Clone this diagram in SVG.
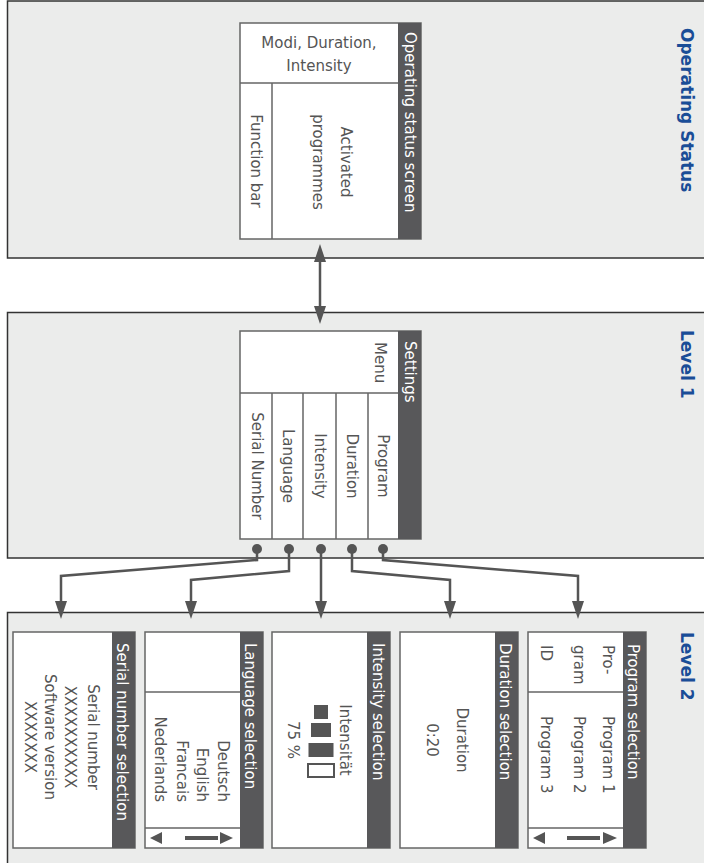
<svg xmlns="http://www.w3.org/2000/svg" width="704" height="863" viewBox="0 0 704 863">
<style>
.band{fill:#ebeceb;stroke:#333;stroke-width:1.5}
.box{fill:#fff;stroke:#666;stroke-width:1.5}
.strip{fill:#58585a}
.ln{stroke:#666;stroke-width:1.5;fill:none}
.t{font-family:"DejaVu Sans",sans-serif;font-size:15px;fill:#555;dominant-baseline:central}
.w{fill:#fff}
.lvl{font-family:"DejaVu Sans",sans-serif;font-weight:bold;font-size:17px;fill:#1a4d97;dominant-baseline:central}
.conn{stroke:#555;stroke-width:2.5;fill:none}
.dk{fill:#555}
</style>
<defs>
<marker id="ah" viewBox="0 0 18 12" refX="11" refY="6" markerWidth="18" markerHeight="12" markerUnits="userSpaceOnUse" orient="auto-start-reverse">
<path d="M0,0 L18,6 L0,12 z" fill="#555"/>
</marker>
</defs>

<g id="bands">
<rect class="band" x="7.5" y="1" width="700" height="257"/>
<rect class="band" x="7.5" y="312.5" width="700" height="245.5"/>
<rect class="band" x="7.5" y="612.5" width="700" height="260"/>
<text class="lvl" transform="translate(687,28) rotate(90)">Operating Status</text>
<text class="lvl" transform="translate(687,330) rotate(90)">Level 1</text>
<text class="lvl" transform="translate(687,632) rotate(90)">Level 2</text>
</g>

<g id="operating-status">
<rect class="box" x="240" y="23" width="181" height="216"/>
<rect class="strip" x="398" y="23" width="23" height="216"/>
<path class="ln" d="M240,83 H398 M272,83 V239"/>
<text class="t w" transform="translate(410,32) rotate(90)">Operating status screen</text>
<text class="t" x="319" y="43" text-anchor="middle">Modi, Duration,</text>
<text class="t" x="319" y="66" text-anchor="middle">Intensity</text>
<text class="t" text-anchor="middle" transform="translate(346,162) rotate(90)">Activated</text>
<text class="t" text-anchor="middle" transform="translate(318,162) rotate(90)">programmes</text>
<text class="t" text-anchor="middle" transform="translate(256,161) rotate(90)">Function bar</text>
</g>

<g id="settings">
<rect class="box" x="240" y="331" width="181" height="208"/>
<rect class="strip" x="398" y="331" width="23" height="208"/>
<path class="ln" d="M240,393 H398 M272,393 V539 M303,393 V539 M336,393 V539 M368,393 V539"/>
<text class="t w" transform="translate(410,341) rotate(90)">Settings</text>
<text class="t" transform="translate(380,342) rotate(90)">Menu</text>
<text class="t" text-anchor="middle" transform="translate(383,466) rotate(90)">Program</text>
<text class="t" text-anchor="middle" transform="translate(352,466) rotate(90)">Duration</text>
<text class="t" text-anchor="middle" transform="translate(320,466) rotate(90)">Intensity</text>
<text class="t" text-anchor="middle" transform="translate(288,466) rotate(90)">Language</text>
<text class="t" text-anchor="middle" transform="translate(257,466) rotate(90)">Serial Number</text>
</g>

<g id="program-selection">
<rect class="box" x="528" y="632" width="118" height="216"/>
<rect class="strip" x="623" y="632" width="23" height="216"/>
<path class="ln" d="M528,692 H623 M528,828 H623"/>
<text class="t w" transform="translate(633,644) rotate(90)">Program selection</text>
<text class="t" transform="translate(608,645) rotate(90)">Pro-</text>
<text class="t" transform="translate(579,645) rotate(90)">gram</text>
<text class="t" transform="translate(546,645) rotate(90)">ID</text>
<text class="t" transform="translate(608,716) rotate(90)">Program 1</text>
<text class="t" transform="translate(579,716) rotate(90)">Program 2</text>
<text class="t" transform="translate(546,716) rotate(90)">Program 3</text>
<polygon class="dk" points="533,838 545,832 545,844"/>
<rect class="dk" x="567" y="836" width="33" height="4"/>
<polygon class="dk" points="617,838 603,832 603,844"/>
</g>

<g id="duration-selection">
<rect class="box" x="400" y="632" width="118" height="216"/>
<rect class="strip" x="495" y="632" width="23" height="216"/>
<text class="t w" transform="translate(505,643) rotate(90)">Duration selection</text>
<text class="t" text-anchor="middle" transform="translate(462,740) rotate(90)">Duration</text>
<text class="t" text-anchor="middle" transform="translate(432,740) rotate(90)">0:20</text>
</g>

<g id="intensity-selection">
<rect class="box" x="272" y="632" width="118" height="216"/>
<rect class="strip" x="367" y="632" width="23" height="216"/>
<text class="t w" transform="translate(378,643) rotate(90)">Intensity selection</text>
<text class="t" text-anchor="middle" transform="translate(345,740) rotate(90)">Intensität</text>
<rect class="dk" x="314" y="705" width="14" height="14"/>
<rect class="dk" x="311" y="723" width="20" height="14"/>
<rect class="dk" x="308.5" y="743" width="25" height="14"/>
<rect x="308" y="764" width="26" height="13" fill="#fff" stroke="#555" stroke-width="2"/>
<text class="t" text-anchor="middle" transform="translate(293,740) rotate(90)">75 %</text>
</g>

<g id="language-selection">
<rect class="box" x="145" y="632" width="118" height="216"/>
<rect class="strip" x="240" y="632" width="23" height="216"/>
<path class="ln" d="M145,692 H240 M145,828 H240"/>
<text class="t w" transform="translate(250,643) rotate(90)">Language selection</text>
<text class="t" text-anchor="end" transform="translate(223,802) rotate(90)">Deutsch</text>
<text class="t" text-anchor="end" transform="translate(202,802) rotate(90)">English</text>
<text class="t" text-anchor="end" transform="translate(182,802) rotate(90)">Francais</text>
<text class="t" text-anchor="end" transform="translate(160,802) rotate(90)">Nederlands</text>
<polygon class="dk" points="150,838 162,832 162,844"/>
<rect class="dk" x="185" y="836" width="33" height="4"/>
<polygon class="dk" points="233,838 220,832 220,844"/>
</g>

<g id="serial-number-selection">
<rect class="box" x="13" y="632" width="122" height="216"/>
<rect class="strip" x="112" y="632" width="23" height="216"/>
<text class="t w" transform="translate(122,643) rotate(90)">Serial number selection</text>
<text class="t" text-anchor="middle" transform="translate(93,737) rotate(90)">Serial number</text>
<text class="t" text-anchor="middle" transform="translate(70,737) rotate(90)">XXXXXXXXXX</text>
<text class="t" text-anchor="middle" transform="translate(50,737) rotate(90)">Software version</text>
<text class="t" text-anchor="middle" transform="translate(30,737) rotate(90)">XXXXXXX</text>
</g>

<g id="connectors">
<path class="conn" d="M320,251 V317" marker-start="url(#ah)" marker-end="url(#ah)"/>
<circle class="dk" cx="257" cy="549" r="5"/>
<circle class="dk" cx="289" cy="549" r="5"/>
<circle class="dk" cx="321" cy="549" r="5"/>
<circle class="dk" cx="352" cy="549" r="5"/>
<circle class="dk" cx="383" cy="549" r="5"/>
<path class="conn" d="M257,549 V560 L61,576 V612" marker-end="url(#ah)"/>
<path class="conn" d="M289,549 V571 L191,580 V612" marker-end="url(#ah)"/>
<path class="conn" d="M321,549 V612" marker-end="url(#ah)"/>
<path class="conn" d="M352,549 V571 L450,580 V612" marker-end="url(#ah)"/>
<path class="conn" d="M383,549 V560 L578,576 V612" marker-end="url(#ah)"/>
</g>
</svg>
